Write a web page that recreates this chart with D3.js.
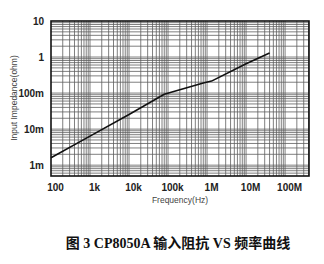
<!DOCTYPE html>
<html>
<head>
<meta charset="utf-8">
<script src="https://cdn.jsdelivr.net/npm/d3@7"></script>
<style>
  body { margin: 0; background: #fff; }
  svg text { font-family: "Liberation Sans", Arial, sans-serif; }
</style>
</head>
<body>
<svg id="chart" width="324" height="264"></svg>
<script>
// curve (Hz, ohm)
const freqs = [100, 1000, 10000, 80000, 120000, 800000, 1300000, 10000000, 40000000];
const impedance = [0.0016, 0.0064, 0.0255, 0.093, 0.106, 0.19, 0.215, 0.65, 1.3];

const xTicks = [100, 1e3, 1e4, 1e5, 1e6, 1e7, 1e8];
const xTickLabels = ['100', '1k', '10k', '100k', '1M', '10M', '100M'];
const yTicks = [0.001, 0.01, 0.1, 1, 10];
const yTickLabels = ['1m', '10m', '100m', '1', '10'];

const margin = {top: 21, right: 15, bottom: 88, left: 51};
const width = 324 - margin.left - margin.right;
const height = 264 - margin.top - margin.bottom;

const svg = d3.select('#chart');
const chart = svg.append('g')
    .attr('transform', `translate(${margin.left},${margin.top})`);

const xScale = d3.scaleLog().domain([100, 4.1e8]).range([0, width]);
const yScale = d3.scaleLog().domain([0.0005, 10]).range([height, 0]);

// grid lines, 1..9 per decade
const xGrid = [];
for (let e = 2; e <= 8; e++) for (let m = 1; m <= 9; m++) {
    const v = m * Math.pow(10, e);
    if (v > 100 && v < 4.1e8) xGrid.push(v);
}
const yGrid = [];
for (let e = -4; e <= 0; e++) for (let m = 1; m <= 9; m++) {
    const v = m * Math.pow(10, e);
    if (v > 0.0005 && v < 10) yGrid.push(v);
}

chart.selectAll('.xg').data(xGrid).join('line')
    .attr('class', 'xg')
    .attr('x1', d => xScale(d)).attr('x2', d => xScale(d))
    .attr('y1', 0).attr('y2', height)
    .attr('stroke', '#5e5e5e').attr('stroke-width', 0.8);

chart.selectAll('.yg').data(yGrid).join('line')
    .attr('class', 'yg')
    .attr('y1', d => yScale(d)).attr('y2', d => yScale(d))
    .attr('x1', 0).attr('x2', width)
    .attr('stroke', '#5e5e5e').attr('stroke-width', 0.8);

// frame
chart.append('rect')
    .attr('width', width).attr('height', height)
    .attr('fill', 'none').attr('stroke', '#111').attr('stroke-width', 1.6);

// axes (labels only)
const xAxis = d3.axisBottom(xScale).tickValues(xTicks)
    .tickFormat((d, i) => xTickLabels[i]).tickSize(0).tickPadding(8);
const yAxis = d3.axisLeft(yScale).tickValues(yTicks)
    .tickFormat((d, i) => yTickLabels[i]).tickSize(0).tickPadding(7);

const xAxisG = chart.append('g')
    .attr('transform', `translate(0,${height})`)
    .call(xAxis);
const yAxisG = chart.append('g').call(yAxis);

[xAxisG, yAxisG].forEach(g => {
    g.select('.domain').remove();
    g.selectAll('text')
        .attr('fill', '#222')
        .style('font-size', '10px')
        .style('font-weight', 'bold');
});
xAxisG.selectAll('text').attr('dx', '4');

// curve
const line = d3.line()
    .x((d, i) => xScale(freqs[i]))
    .y(d => yScale(d));

chart.append('path')
    .datum(impedance)
    .attr('d', line)
    .attr('fill', 'none')
    .attr('stroke', '#111')
    .attr('stroke-width', 1.6)
    .attr('stroke-linejoin', 'round');

// axis titles
svg.append('text')
    .attr('transform', 'rotate(-90)')
    .attr('x', -98).attr('y', 17)
    .attr('text-anchor', 'middle')
    .attr('fill', '#444')
    .style('font-size', '8.5px')
    .text('Input Impedance(ohm)');

svg.append('text')
    .attr('x', 180).attr('y', 203)
    .attr('text-anchor', 'middle')
    .attr('fill', '#444')
    .style('font-size', '8.5px')
    .text('Frequency(Hz)');

// caption
svg.append('text')
    .attr('x', 178).attr('y', 248)
    .attr('text-anchor', 'middle')
    .attr('fill', '#111')
    .style('font-family', '"Liberation Serif", "Noto Sans CJK SC", serif')
    .style('font-size', '14px')
    .style('font-weight', 'bold')
    .text('图 3 CP8050A 输入阻抗 VS 频率曲线');
</script>
</body>
</html>
